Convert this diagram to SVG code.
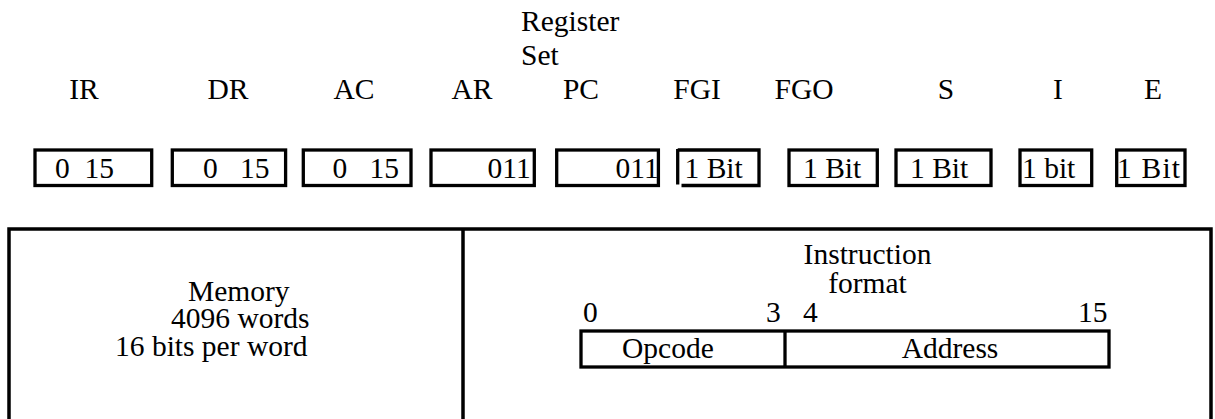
<svg xmlns="http://www.w3.org/2000/svg" width="1215" height="419" viewBox="0 0 1215 419">
<style>
text{font-family:"Liberation Serif","Times New Roman",serif;font-size:29.5px;fill:#000;white-space:pre}
.box{fill:#fff;stroke:#000;stroke-width:3.3}
.ln{fill:none;stroke:#000;stroke-width:3.3}
.mid{text-anchor:middle}
</style>
<rect width="1215" height="419" fill="#fff"/>
<g id="title">
<text x="521" y="31">Register</text>
<text x="521" y="65">Set</text>
</g>
<g id="labels">
<text class="mid" x="84" y="99">IR</text>
<text class="mid" x="228" y="99">DR</text>
<text class="mid" x="354" y="99">AC</text>
<text class="mid" x="472" y="99">AR</text>
<text class="mid" x="581" y="99">PC</text>
<text class="mid" x="697" y="99">FGI</text>
<text class="mid" x="804" y="99">FGO</text>
<text class="mid" x="946" y="99">S</text>
<text class="mid" x="1058" y="99">I</text>
<text class="mid" x="1153" y="99">E</text>
</g>
<g id="reg-IR"><rect class="box" x="35" y="150" width="116.7" height="35.5"/><text x="55" y="178">0  15</text></g>
<g id="reg-DR"><rect class="box" x="172.3" y="150" width="113.3" height="35.5"/><text x="203" y="178">0   15</text></g>
<g id="reg-AC"><rect class="box" x="303.3" y="150" width="107.7" height="35.5"/><text x="332.5" y="178">0   15</text></g>
<g id="reg-AR"><rect class="box" x="431" y="150" width="103.3" height="35.5"/><text x="487.5" y="178">011</text></g>
<g id="reg-PC"><rect class="box" x="556.7" y="150" width="101.7" height="35.5"/><text x="615.5" y="178">011</text></g>
<g id="reg-FGI"><path class="ln" d="M677.7 149 V184.5"/><path class="ln" d="M677.7 150 H759 V185.5 H681.5"/><text x="684.5" y="178">1 Bit</text></g>
<g id="reg-FGO"><rect class="box" x="789" y="150" width="88.3" height="35.5"/><text x="803" y="178">1 Bit</text></g>
<g id="reg-S"><rect class="box" x="896" y="150" width="95" height="35.5"/><text x="910" y="178">1 Bit</text></g>
<g id="reg-I"><rect class="box" x="1020" y="150" width="71.7" height="35.5"/><text x="1022" y="178">1 bit</text></g>
<g id="reg-E"><rect class="box" x="1116.7" y="150" width="68.3" height="35.5"/><text x="1117" y="178" textLength="63" lengthAdjust="spacing">1 Bit</text></g>
<g id="panel">
<rect x="9" y="229" width="1202" height="260" fill="none" stroke="#000" stroke-width="3.5"/>
<line x1="463" y1="229" x2="463" y2="430" stroke="#000" stroke-width="3.5"/>
</g>
<g id="memory">
<text x="188" y="301">Memory</text>
<text x="171" y="328">4096 words</text>
<text x="115" y="356">16 bits per word</text>
</g>
<g id="instruction-format">
<text class="mid" x="867.5" y="264">Instruction</text>
<text class="mid" x="867.5" y="293">format</text>
<text x="583" y="322">0</text>
<text x="766" y="322">3</text>
<text x="803" y="322">4</text>
<text x="1078" y="322">15</text>
<rect class="box" x="581" y="331" width="528" height="36"/>
<line class="ln" x1="785" y1="331" x2="785" y2="367"/>
<text x="622" y="358">Opcode</text>
<text class="mid" x="950" y="358">Address</text>
</g>
</svg>
